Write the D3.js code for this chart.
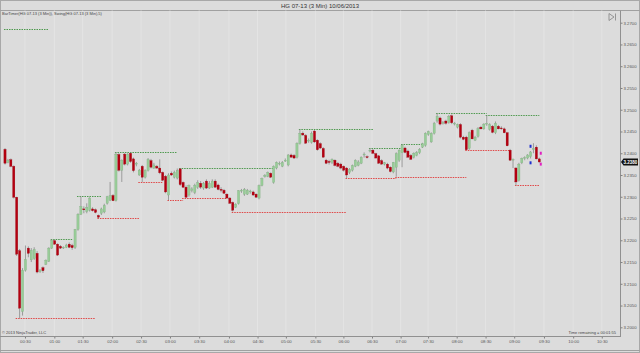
<!DOCTYPE html>
<html lang="en">
<head>
<meta charset="utf-8" />
<title>HG 07-13 (3 Min) 10/06/2013</title>
<script src="https://d3js.org/d3.v7.min.js"></script>
<style>
  body { margin: 0; background: #dcdcdc; }
  svg { display: block; font-family: "Liberation Sans", Arial, sans-serif; }
</style>
</head>
<body>
<script>
var w = 640, h = 353;
var plotRight = 620, plotTop = 10.5, plotBottom = 336.5;

// open, high, low, close of every 3 minute bar
var candles = [
  [3.2409,3.2412,3.2374,3.2377],[3.2379,3.2387,3.2377,3.2384],[3.2385,3.2388,3.2368,3.2370],[3.2370,3.2372,3.2296,3.2299],
  [3.2299,3.2300,3.2164,3.2168],[3.2176,3.2180,3.2021,3.2044],[3.2036,3.2136,3.2027,3.2131],[3.2131,3.2188,3.2128,3.2156],
  [3.2182,3.2186,3.2161,3.2170],[3.2155,3.2182,3.2150,3.2177],[3.2158,3.2184,3.2155,3.2179],[3.2170,3.2175,3.2124,3.2127],
  [3.2128,3.2134,3.2125,3.2131],[3.2137,3.2140,3.2125,3.2130],[3.2145,3.2156,3.2143,3.2154],[3.2152,3.2184,3.2150,3.2182],
  [3.2182,3.2202,3.2180,3.2200],[3.2199,3.2201,3.2190,3.2191],[3.2191,3.2193,3.2164,3.2166],[3.2186,3.2189,3.2180,3.2182],
  [3.2183,3.2186,3.2180,3.2184],[3.2184,3.2192,3.2182,3.2189],[3.2191,3.2195,3.2182,3.2184],[3.2188,3.2192,3.2178,3.2183],
  [3.2183,3.2226,3.2180,3.2225],[3.2225,3.2262,3.2222,3.2260],[3.2260,3.2301,3.2258,3.2278],[3.2272,3.2278,3.2262,3.2270],
  [3.2266,3.2285,3.2262,3.2276],[3.2269,3.2299,3.2266,3.2297],[3.2272,3.2276,3.2266,3.2268],[3.2270,3.2273,3.2262,3.2264],
  [3.2257,3.2259,3.2251,3.2253],[3.2262,3.2275,3.2258,3.2272],[3.2265,3.2284,3.2262,3.2280],[3.2285,3.2302,3.2282,3.2300],
  [3.2292,3.2334,3.2290,3.2303],[3.2303,3.2306,3.2290,3.2291],[3.2291,3.2402,3.2289,3.2398],[3.2397,3.2400,3.2358,3.2361],
  [3.2361,3.2386,3.2334,3.2384],[3.2398,3.2401,3.2372,3.2375],[3.2375,3.2400,3.2372,3.2398],[3.2400,3.2402,3.2378,3.2381],
  [3.2387,3.2390,3.2356,3.2360],[3.2375,3.2380,3.2370,3.2377],[3.2350,3.2364,3.2348,3.2361],[3.2370,3.2373,3.2334,3.2345],
  [3.2345,3.2363,3.2342,3.2361],[3.2361,3.2389,3.2358,3.2386],[3.2383,3.2387,3.2365,3.2368],[3.2366,3.2378,3.2364,3.2373],
  [3.2370,3.2373,3.2364,3.2366],[3.2366,3.2386,3.2352,3.2355],[3.2356,3.2358,3.2336,3.2338],[3.2347,3.2350,3.2308,3.2311],
  [3.2304,3.2354,3.2292,3.2350],[3.2354,3.2358,3.2348,3.2350],[3.2345,3.2360,3.2342,3.2356],[3.2343,3.2365,3.2340,3.2361],
  [3.2364,3.2366,3.2325,3.2328],[3.2333,3.2335,3.2320,3.2322],[3.2322,3.2326,3.2297,3.2299],[3.2304,3.2328,3.2300,3.2326],
  [3.2315,3.2322,3.2310,3.2318],[3.2310,3.2330,3.2306,3.2326],[3.2322,3.2338,3.2318,3.2333],[3.2331,3.2336,3.2318,3.2322],
  [3.2320,3.2334,3.2316,3.2331],[3.2336,3.2340,3.2318,3.2320],[3.2320,3.2336,3.2318,3.2331],[3.2322,3.2340,3.2320,3.2336],
  [3.2336,3.2340,3.2321,3.2322],[3.2327,3.2330,3.2315,3.2317],[3.2317,3.2322,3.2310,3.2315],[3.2315,3.2318,3.2307,3.2308],
  [3.2306,3.2308,3.2296,3.2297],[3.2297,3.2299,3.2284,3.2285],[3.2287,3.2289,3.2266,3.2269],[3.2276,3.2285,3.2274,3.2283],
  [3.2284,3.2315,3.2282,3.2314],[3.2313,3.2318,3.2309,3.2315],[3.2306,3.2320,3.2302,3.2317],[3.2306,3.2318,3.2304,3.2315],
  [3.2311,3.2316,3.2307,3.2313],[3.2311,3.2314,3.2302,3.2304],[3.2306,3.2308,3.2298,3.2299],[3.2297,3.2328,3.2294,3.2326],
  [3.2326,3.2344,3.2324,3.2342],[3.2346,3.2352,3.2344,3.2349],[3.2347,3.2358,3.2345,3.2356],[3.2354,3.2356,3.2343,3.2345],
  [3.2333,3.2372,3.2330,3.2370],[3.2366,3.2381,3.2363,3.2379],[3.2377,3.2381,3.2372,3.2377],[3.2370,3.2382,3.2368,3.2379],
  [3.2382,3.2388,3.2380,3.2384],[3.2373,3.2398,3.2370,3.2396],[3.2396,3.2399,3.2390,3.2391],[3.2395,3.2398,3.2387,3.2389],
  [3.2391,3.2425,3.2388,3.2423],[3.2423,3.2455,3.2420,3.2446],[3.2446,3.2450,3.2440,3.2442],[3.2441,3.2444,3.2422,3.2423],
  [3.2428,3.2434,3.2424,3.2430],[3.2425,3.2450,3.2422,3.2446],[3.2451,3.2453,3.2424,3.2426],[3.2430,3.2432,3.2406,3.2408],
  [3.2422,3.2425,3.2410,3.2412],[3.2411,3.2414,3.2390,3.2391],[3.2384,3.2387,3.2375,3.2377],[3.2381,3.2385,3.2374,3.2379],
  [3.2379,3.2388,3.2375,3.2386],[3.2384,3.2386,3.2370,3.2372],[3.2377,3.2380,3.2368,3.2370],[3.2375,3.2378,3.2363,3.2366],
  [3.2370,3.2372,3.2358,3.2361],[3.2366,3.2368,3.2343,3.2350],[3.2356,3.2366,3.2352,3.2363],[3.2361,3.2374,3.2358,3.2372],
  [3.2370,3.2386,3.2368,3.2384],[3.2372,3.2384,3.2370,3.2380],[3.2377,3.2393,3.2375,3.2391],[3.2396,3.2402,3.2390,3.2398],
  [3.2392,3.2395,3.2388,3.2391],[3.2405,3.2412,3.2402,3.2407],[3.2407,3.2410,3.2398,3.2400],[3.2399,3.2401,3.2388,3.2389],
  [3.2394,3.2396,3.2376,3.2377],[3.2383,3.2386,3.2374,3.2375],[3.2375,3.2380,3.2372,3.2378],[3.2375,3.2378,3.2363,3.2366],
  [3.2368,3.2370,3.2356,3.2358],[3.2357,3.2380,3.2354,3.2379],[3.2368,3.2402,3.2346,3.2399],[3.2384,3.2409,3.2380,3.2407],
  [3.2401,3.2421,3.2368,3.2418],[3.2412,3.2415,3.2400,3.2402],[3.2405,3.2408,3.2390,3.2391],[3.2395,3.2398,3.2385,3.2386],
  [3.2391,3.2402,3.2388,3.2400],[3.2395,3.2405,3.2393,3.2402],[3.2401,3.2412,3.2398,3.2409],[3.2414,3.2424,3.2412,3.2422],
  [3.2418,3.2448,3.2415,3.2446],[3.2443,3.2452,3.2440,3.2450],[3.2426,3.2448,3.2424,3.2446],[3.2446,3.2472,3.2443,3.2469],
  [3.2474,3.2492,3.2470,3.2485],[3.2481,3.2484,3.2464,3.2467],[3.2470,3.2474,3.2466,3.2471],[3.2474,3.2477,3.2466,3.2469],
  [3.2471,3.2488,3.2468,3.2485],[3.2486,3.2489,3.2467,3.2470],[3.2468,3.2472,3.2464,3.2469],[3.2460,3.2468,3.2457,3.2466],
  [3.2466,3.2469,3.2434,3.2437],[3.2437,3.2440,3.2430,3.2432],[3.2437,3.2440,3.2407,3.2408],[3.2411,3.2450,3.2408,3.2447],
  [3.2453,3.2456,3.2432,3.2433],[3.2430,3.2440,3.2428,3.2437],[3.2439,3.2460,3.2436,3.2457],[3.2460,3.2463,3.2455,3.2456],
  [3.2456,3.2469,3.2454,3.2467],[3.2467,3.2487,3.2463,3.2469],[3.2455,3.2469,3.2452,3.2466],[3.2462,3.2465,3.2446,3.2448],
  [3.2447,3.2473,3.2444,3.2469],[3.2462,3.2465,3.2455,3.2456],[3.2458,3.2462,3.2454,3.2457],[3.2456,3.2459,3.2446,3.2447],
  [3.2447,3.2449,3.2416,3.2417],[3.2407,3.2410,3.2383,3.2384],[3.2384,3.2388,3.2366,3.2386],[3.2366,3.2368,3.2326,3.2334],
  [3.2338,3.2378,3.2335,3.2375],[3.2378,3.2390,3.2375,3.2388],[3.2388,3.2393,3.2384,3.2390],[3.2389,3.2398,3.2386,3.2396],
  [3.2392,3.2405,3.2388,3.2403],[3.2408,3.2423,3.2400,3.2411],[3.2414,3.2418,3.2386,3.2387],[3.2387,3.2390,3.2378,3.2380]
];

var priceTicks = [3.2000, 3.2050, 3.2100, 3.2150, 3.2200, 3.2250, 3.2300, 3.2350,
                  3.2400, 3.2450, 3.2500, 3.2550, 3.2600, 3.2650, 3.2700];
var timeLabels = ["00:30", "01:00", "01:30", "02:00", "02:30", "03:00", "03:30", "04:00", "04:30", "05:00", "05:30",
                  "06:00", "06:30", "07:00", "07:30", "08:00", "08:30", "09:00", "09:30", "10:00", "10:30"];
// bar position (index) where each time label falls
var timeTickBars = [6.85, 16.9, 26.6, 36.7, 46.6, 56.5, 66.5, 76.7, 86.5, 96.2, 106.3,
                    115.9, 125.7, 135.5, 144.9, 154.7, 164.6, 174.4, 184.6, 194.6, 204.4];

// swing lines: [price, from bar, to bar]
var swingHighs = [[3.2686, 0, 15], [3.2202, 16, 23], [3.2301, 25, 33], [3.2402, 38, 59], [3.2366, 60, 92],
                  [3.2455, 101, 126], [3.2412, 125, 136], [3.2421, 136, 143], [3.2492, 148, 165], [3.2487, 165, 183]];
var swingLows = [[3.2021, 4, 31], [3.2251, 32, 46], [3.2334, 46, 54], [3.2292, 56, 61], [3.2297, 61, 76],
                 [3.2266, 78, 117], [3.2343, 117, 134], [3.2346, 134, 158], [3.2407, 158, 173], [3.2326, 175, 183]];

// small signal marks near the last bars: [bar, price, colour]
var signalMarks = [[180, 3.2416, "#2030d0"], [180, 3.2378, "#2030d0"], [183.5, 3.2400, "#e020c0"], [183.5, 3.2375, "#e020c0"]];

var lastPrice = 3.2380;

var svg = d3.select("body").append("svg").attr("width", w).attr("height", h);

var x = d3.scaleLinear().domain([0, candles.length - 1]).range([5, 539.3]);
var y = d3.scaleLinear().domain([3.2, 3.27]).range([327.3, 22.7]);

svg.append("rect").attr("x", 0.5).attr("y", 0.5).attr("width", w - 1).attr("height", h - 1)
    .attr("fill", "#dcdcdc").attr("stroke", "#a8a8a8");

// title
svg.append("text").attr("x", 320).attr("y", 8).attr("text-anchor", "middle")
    .attr("font-size", "6px").attr("fill", "#333").text("HG 07-13 (3 Min)  10/06/2013");

svg.append("line").attr("x1", 0).attr("x2", w).attr("y1", plotTop).attr("y2", plotTop)
    .attr("stroke", "#a0a0a0");

// vertical grid
svg.append("g").selectAll("line").data(timeTickBars).enter().append("line")
    .attr("x1", function (d) { return x(d); }).attr("x2", function (d) { return x(d); })
    .attr("y1", plotTop).attr("y2", plotBottom)
    .attr("stroke", "#e6e6e6").attr("stroke-width", 0.8);

svg.append("text").attr("x", 2).attr("y", 15).attr("font-size", "4px").attr("fill", "#444")
    .text("BarTimer(HG 07-13 (3 Min)), Swing(HG 07-13 (3 Min),5)");

// swing lines
function drawSwings(data, color) {
    svg.append("g").selectAll("line").data(data).enter().append("line")
        .attr("x1", function (d) { return x(d[1]) - 1; })
        .attr("x2", function (d) { return x(d[2]); })
        .attr("y1", function (d) { return Math.round(y(d[0])) + 0.5; })
        .attr("y2", function (d) { return Math.round(y(d[0])) + 0.5; })
        .attr("stroke", color).attr("stroke-width", 1).attr("stroke-dasharray", "1.5,1");
}
drawSwings(swingHighs, "#4f9a4f");
drawSwings(swingLows, "#e04848");

// candles
var bars = svg.append("g");
bars.selectAll("line").data(candles).enter().append("line")
    .attr("x1", function (d, i) { return x(i); }).attr("x2", function (d, i) { return x(i); })
    .attr("y1", function (d) { return y(d[1]); }).attr("y2", function (d) { return y(d[2]); })
    .attr("stroke", "#8a8a8a").attr("stroke-width", 0.8);

bars.selectAll("rect").data(candles).enter().append("rect")
    .attr("x", function (d, i) { return x(i) - 1.1; })
    .attr("width", 2.2)
    .attr("y", function (d) { return y(Math.max(d[0], d[3])); })
    .attr("height", function (d) { return Math.max(0.8, Math.abs(y(d[0]) - y(d[3]))); })
    .attr("fill", function (d) { return d[3] >= d[0] ? "#98cc98" : "#b40010"; })
    .attr("stroke", function (d) { return d[3] >= d[0] ? "#7fae7f" : "#9a0010"; })
    .attr("stroke-width", 0.3);

svg.append("g").selectAll("rect").data(signalMarks).enter().append("rect")
    .attr("x", function (d) { return x(d[0]) - 1; })
    .attr("y", function (d) { return y(d[1]) - 1.5; })
    .attr("width", 2).attr("height", 3)
    .attr("fill", function (d) { return d[2]; });

// price axis
svg.append("line").attr("x1", plotRight + 0.5).attr("x2", plotRight + 0.5)
    .attr("y1", plotTop).attr("y2", plotBottom).attr("stroke", "#909090");

var yAxis = svg.append("g").attr("transform", "translate(" + (plotRight + 0.5) + ",0)")
    .call(d3.axisRight(y).tickValues(priceTicks).tickFormat(d3.format(".4f")).tickSize(2).tickPadding(1));
yAxis.select(".domain").remove();
yAxis.selectAll("line").attr("stroke", "#808080");
yAxis.selectAll("text").attr("font-size", "4.3px").attr("fill", "#555");

// last price marker
var lp = y(lastPrice);
svg.append("path")
    .attr("d", "M" + (plotRight + 1) + "," + lp + "L" + (plotRight + 3.5) + "," + (lp - 3.5) +
        "L638," + (lp - 3.5) + "L638," + (lp + 3.5) + "L" + (plotRight + 3.5) + "," + (lp + 3.5) + "Z")
    .attr("fill", "#111");
svg.append("text").attr("x", 630.5).attr("y", lp + 1.6).attr("text-anchor", "middle")
    .attr("font-size", "4.5px").attr("font-weight", "bold").attr("fill", "#fff").text(d3.format(".4f")(lastPrice));

// time axis
var xAxis = svg.append("g").attr("transform", "translate(0," + plotBottom + ")")
    .call(d3.axisBottom(x).tickValues(timeTickBars)
        .tickFormat(function (d, i) { return timeLabels[i]; }).tickSize(2).tickPadding(1));
xAxis.select(".domain").remove();
xAxis.selectAll("line").attr("stroke", "#808080");
xAxis.selectAll("text").attr("font-size", "4.3px").attr("fill", "#555");
svg.append("line").attr("x1", 0).attr("x2", plotRight + 1).attr("y1", plotBottom).attr("y2", plotBottom)
    .attr("stroke", "#909090");

svg.append("line").attr("x1", 0).attr("x2", w).attr("y1", 350.5).attr("y2", 350.5).attr("stroke", "#a0a0a0");

svg.append("text").attr("x", 2).attr("y", 334).attr("font-size", "4px").attr("fill", "#444")
    .text("\u00a9 2013 NinjaTrader, LLC");
svg.append("text").attr("x", 616).attr("y", 333.5).attr("text-anchor", "end").attr("font-size", "4px")
    .attr("fill", "#444").text("Time remaining = 00:01:55");

// scroll-to-end icon
svg.append("path").attr("d", "M609,13.5L614,17L609,20.5Z M615.5,13.5L615.5,20.5")
    .attr("fill", "none").attr("stroke", "#777").attr("stroke-width", 0.7);
</script>
</body>
</html>
